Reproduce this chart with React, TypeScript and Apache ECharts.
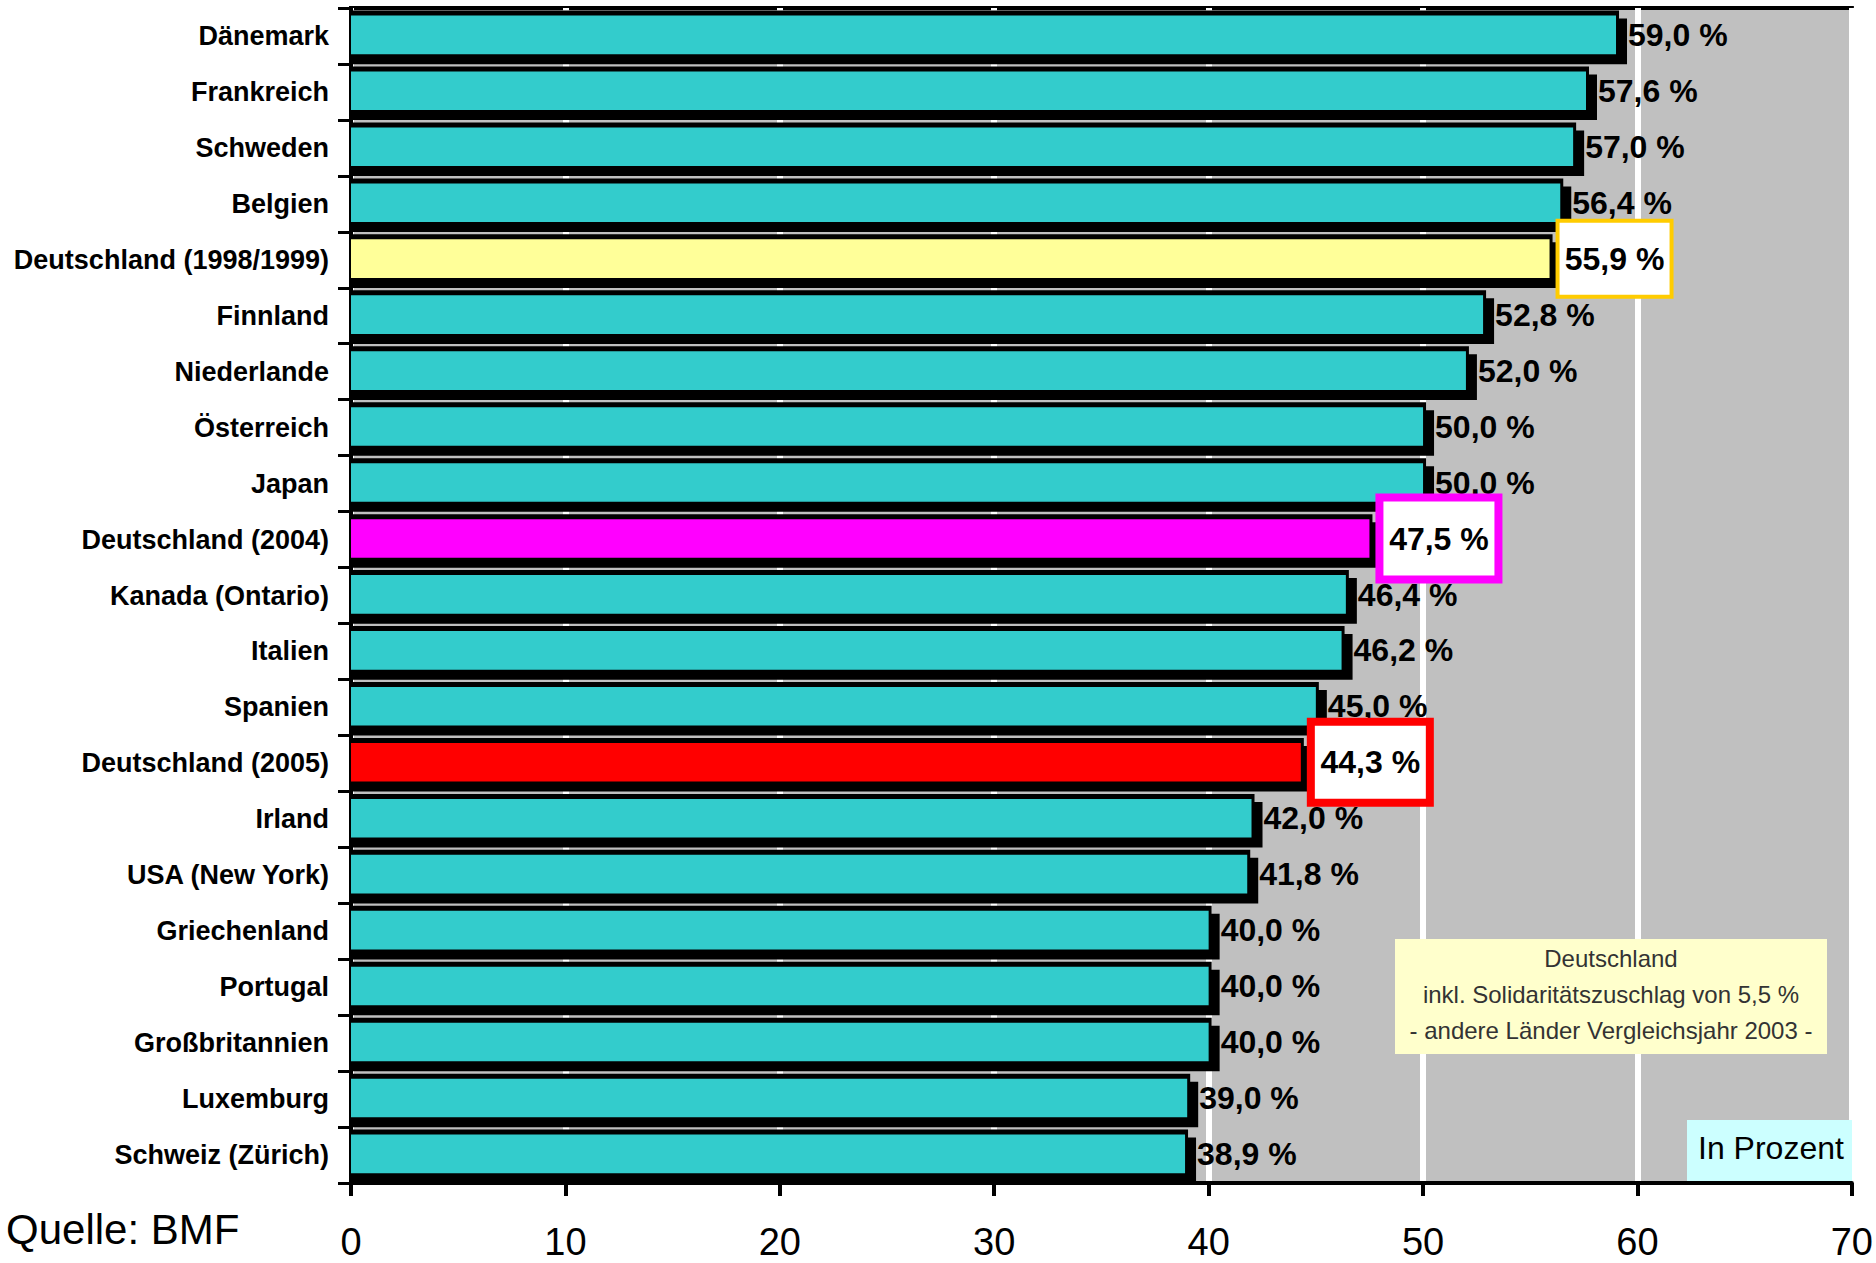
import { useEffect, useRef } from "react";
import * as echarts from "echarts";

// Top marginal income-tax rates, in percent
const COUNTRIES = [
  "Dänemark",
  "Frankreich",
  "Schweden",
  "Belgien",
  "Deutschland (1998/1999)",
  "Finnland",
  "Niederlande",
  "Österreich",
  "Japan",
  "Deutschland (2004)",
  "Kanada (Ontario)",
  "Italien",
  "Spanien",
  "Deutschland (2005)",
  "Irland",
  "USA (New York)",
  "Griechenland",
  "Portugal",
  "Großbritannien",
  "Luxemburg",
  "Schweiz (Zürich)",
];

const TOP_RATES = [
  59.0, 57.6, 57.0, 56.4, 55.9, 52.8, 52.0, 50.0, 50.0, 47.5, 46.4, 46.2, 45.0,
  44.3, 42.0, 41.8, 40.0, 40.0, 40.0, 39.0, 38.9,
];

const AXIS_MIN = 0;
const AXIS_MAX = 70;
const AXIS_STEP = 10;

const NOTE_LINES = [
  "Deutschland",
  "inkl. Solidaritätszuschlag von 5,5 %",
  "- andere Länder Vergleichsjahr 2003 -",
];
const UNIT_NOTE = "In Prozent";
const SOURCE_NOTE = "Quelle: BMF";

// Styling
const FONT = "'Liberation Sans', Arial, Helvetica, sans-serif";
const BAR_COLOR = "#33CCCC";
const PLOT_BG = "#C0C0C0";

type Highlight = {
  fill: string;
  frame: string;
  frameWidth: number;
  boxW: number;
  boxH: number;
};

const HIGHLIGHTS: Record<string, Highlight> = {
  "Deutschland (1998/1999)": { fill: "#FFFF99", frame: "#FFCC00", frameWidth: 4, boxW: 118, boxH: 80 },
  "Deutschland (2004)": { fill: "#FF00FF", frame: "#FF00FF", frameWidth: 8, boxW: 127, boxH: 90 },
  "Deutschland (2005)": { fill: "#FF0000", frame: "#FF0000", frameWidth: 8, boxW: 127, boxH: 89 },
};

const formatRate = (v: number) => v.toFixed(1).replace(".", ",") + " %";

function renderBar(_params: any, api: any) {
  const value = api.value(0) as number;
  const idx = api.value(1) as number;
  const name = COUNTRIES[idx];
  const hl = HIGHLIGHTS[name];

  const base = api.coord([0, idx]);
  const tip = api.coord([value, idx]);
  const band = api.size([0, 1])[1] as number;

  const rowTop = base[1] - band / 2;
  const barTop = rowTop + band * 0.135;
  const barH = band * 0.69;
  const x0 = base[0];
  const x1 = tip[0];
  const midY = base[1] - 1;
  const label = formatRate(value);

  const children: any[] = [
    // drop shadow
    {
      type: "rect",
      shape: { x: x0, y: barTop + 3, width: x1 + 11 - x0, height: barH + 7 },
      style: { fill: "#000" },
    },
    // outline
    {
      type: "rect",
      shape: { x: x0, y: barTop - 5, width: x1 + 3 - x0, height: barH + 9 },
      style: { fill: "#000" },
    },
    // bar face
    {
      type: "rect",
      shape: { x: x0, y: barTop, width: x1 - x0, height: barH },
      style: { fill: hl ? hl.fill : BAR_COLOR },
    },
  ];

  if (hl) {
    const bx = x1 + 6;
    const by = midY - hl.boxH / 2;
    const fw = hl.frameWidth;
    children.push({
      type: "rect",
      z2: 10,
      shape: { x: bx + fw / 2, y: by + fw / 2, width: hl.boxW - fw, height: hl.boxH - fw },
      style: { fill: "#FFFFFF", stroke: hl.frame, lineWidth: fw },
    });
    children.push({
      type: "text",
      z2: 11,
      style: {
        x: bx + hl.boxW / 2,
        y: midY,
        text: label,
        align: "center",
        verticalAlign: "middle",
        fontFamily: FONT,
        fontWeight: "bold",
        fontSize: 32,
        fill: "#000",
      },
    });
  } else {
    children.push({
      type: "text",
      style: {
        x: x1 + 12,
        y: midY,
        text: label,
        align: "left",
        verticalAlign: "middle",
        fontFamily: FONT,
        fontWeight: "bold",
        fontSize: 32,
        fill: "#000",
      },
    });
  }

  return { type: "group", children };
}

export default function App() {
  const ref = useRef<HTMLDivElement>(null);

  useEffect(() => {
    if (!ref.current) return;
    const chart = echarts.init(ref.current, undefined, { renderer: "svg" });

    const noteX = 1611;
    const noteLineY = [958, 994, 1030];

    chart.setOption({
      animation: false,
      backgroundColor: "#FFFFFF",
      grid: {
        left: 351,
        top: 8,
        right: 20,
        bottom: 80,
        show: true,
        backgroundColor: PLOT_BG,
        borderColor: "#000",
        borderWidth: 4,
      },
      xAxis: {
        type: "value",
        min: AXIS_MIN,
        max: AXIS_MAX,
        interval: AXIS_STEP,
        position: "bottom",
        axisLine: { show: true, lineStyle: { color: "#000", width: 4 } },
        axisTick: { show: true, length: 13, lineStyle: { color: "#000", width: 4 } },
        splitLine: { show: true, lineStyle: { color: "#FFFFFF", width: 6 } },
        axisLabel: {
          fontFamily: FONT,
          fontSize: 38,
          color: "#000",
          margin: 59,
          verticalAlign: "middle",
        },
      },
      yAxis: {
        type: "category",
        inverse: true,
        data: COUNTRIES,
        axisLine: { show: true, lineStyle: { color: "#000", width: 4 } },
        axisTick: { show: true, length: 13, lineStyle: { color: "#000", width: 3 } },
        splitLine: { show: false },
        axisLabel: {
          fontFamily: FONT,
          fontWeight: "bold",
          fontSize: 27,
          color: "#000",
          margin: 22,
        },
      },
      series: [
        {
          type: "custom",
          clip: false,
          encode: { x: 0, y: 1 },
          data: TOP_RATES.map((v, i) => [v, i]),
          renderItem: renderBar,
        },
      ],
      graphic: [
        {
          type: "rect",
          shape: { x: 1395, y: 939, width: 432, height: 115 },
          style: { fill: "#FFFFCC" },
          z: 10,
        },
        ...NOTE_LINES.map((line, i) => ({
          type: "text",
          z: 11,
          style: {
            x: noteX,
            y: noteLineY[i],
            text: line,
            align: "center",
            verticalAlign: "middle",
            fontFamily: FONT,
            fontSize: 24,
            fill: "#333333",
          },
        })),
        {
          type: "rect",
          shape: { x: 1687, y: 1120, width: 165, height: 61 },
          style: { fill: "#CCFFFF" },
          z: 10,
        },
        {
          type: "text",
          z: 11,
          style: {
            x: 1698,
            y: 1148,
            text: UNIT_NOTE,
            align: "left",
            verticalAlign: "middle",
            fontFamily: FONT,
            fontSize: 32,
            fill: "#000",
          },
        },
        {
          type: "text",
          z: 11,
          style: {
            x: 6,
            y: 1229,
            text: SOURCE_NOTE,
            align: "left",
            verticalAlign: "middle",
            fontFamily: FONT,
            fontSize: 42,
            fill: "#000",
          },
        },
      ],
    });

    return () => chart.dispose();
  }, []);

  return (
    <div
      ref={ref}
      style={{ position: "absolute", left: 0, top: 0, width: 1876, height: 1263 }}
    />
  );
}
